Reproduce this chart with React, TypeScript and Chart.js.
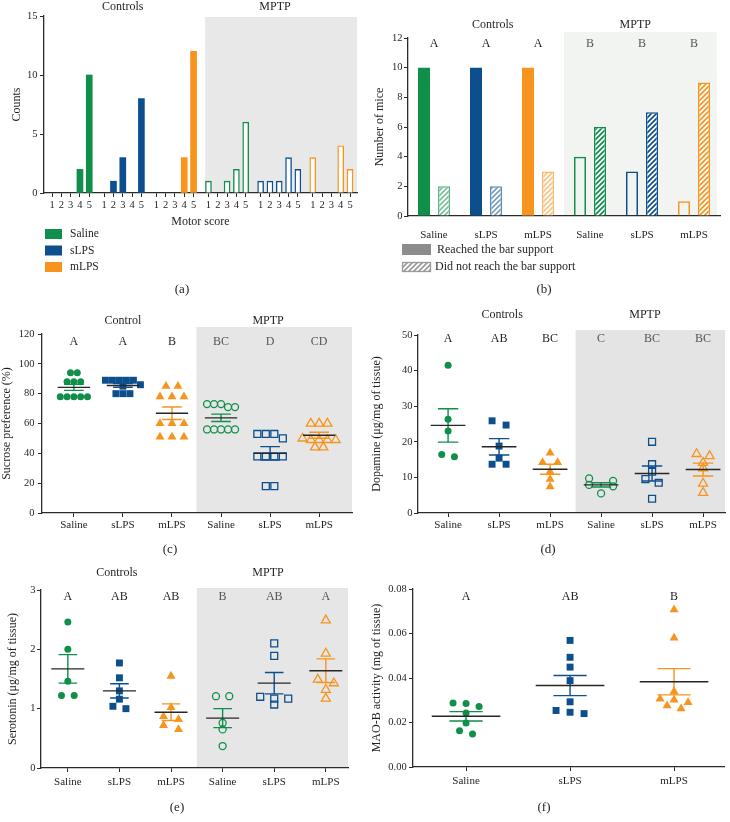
import React, { useEffect, useRef } from 'react';
import { Chart, registerables } from 'chart.js';

Chart.register(...registerables);

/* ================= DATA ================= */
// (a) motor score distribution
const MOTOR_SCORES = ['1', '2', '3', '4', '5'];
const CTRL_SALINE_MOTOR = [0, 0, 0, 2, 10];
const CTRL_SLPS_MOTOR = [0, 1, 3, 0, 8];
const CTRL_MLPS_MOTOR = [0, 0, 0, 3, 12];
const MPTP_SALINE_MOTOR = [1, 0, 1, 2, 6];
const MPTP_SLPS_MOTOR = [1, 1, 1, 3, 2];
const MPTP_MLPS_MOTOR = [3, 0, 0, 4, 2];

const TREATMENTS = ['Saline', 'sLPS', 'mLPS'];
const GROUP_LABELS = [...TREATMENTS, ...TREATMENTS];
const SECTIONS = ['Controls', 'MPTP'];
const SECTIONS_C = ['Control', 'MPTP'];

// (b) bar support
const REACHED = [10, 10, 10, 4, 3, 1];
const NOT_REACHED = [2, 2, 3, 6, 7, 9];
const LETTERS_B = ['A', 'A', 'A', 'B', 'B', 'B'];
const LEGEND_B = ['Reached the bar support', 'Did not reach the bar support'];

// (c) sucrose preference (%)
const SUC_CTRL_SALINE = [94, 94, 88, 88, 88, 78, 78, 78, 78, 78];
const SUC_CTRL_SLPS = [89, 89, 89, 89, 89, 86, 85, 80, 80, 80];
const SUC_CTRL_MLPS = [85, 85, 78, 78, 78, 60, 60, 60, 51, 51, 51];
const SUC_MPTP_SALINE = [73, 71, 73, 71, 73, 56, 56, 56, 56, 56];
const SUC_MPTP_SLPS = [53, 53, 53, 50, 38, 38, 38, 38, 18, 18];
const SUC_MPTP_MLPS = [60, 60, 60, 50, 49, 49, 49, 49, 44, 44];
const SUC_MEAN = [84.2, 85.5, 66.9, 63.8, 40.0, 52.1];
const SUC_SEM = [2.0, 1.2, 4.2, 2.5, 4.5, 2.0];
const LETTERS_C = ['A', 'A', 'B', 'BC', 'D', 'CD'];

// (d) dopamine
const DA_CTRL_SALINE = [41.5, 26.3, 23.0, 16.4, 15.8];
const DA_CTRL_SLPS = [25.9, 24.7, 18.8, 15.4, 13.7, 13.7];
const DA_CTRL_MLPS = [16.9, 14.2, 14.2, 11.6, 9.5, 7.4];
const DA_MPTP_SALINE = [9.7, 9.0, 7.9, 7.5, 5.5];
const DA_MPTP_SLPS = [20.0, 13.7, 11.6, 9.5, 8.5, 4.0];
const DA_MPTP_MLPS = [16.6, 16.0, 14.1, 12.6, 8.3, 5.7];
const DA_MEAN = [24.6, 18.6, 12.3, 7.9, 11.1, 12.2];
const DA_SEM = [4.7, 2.3, 1.4, 0.6, 2.1, 1.8];
const LETTERS_D = ['A', 'AB', 'BC', 'C', 'BC', 'BC'];

// (e) serotonin
const HT_CTRL_SALINE = [2.46, 2.0, 1.46, 1.22, 1.22];
const HT_CTRL_SLPS = [1.77, 1.52, 1.3, 1.16, 1.04, 1.0];
const HT_CTRL_MLPS = [1.55, 1.02, 0.87, 0.82, 0.72, 0.65];
const HT_MPTP_SALINE = [1.21, 1.21, 0.76, 0.65, 0.37];
const HT_MPTP_SLPS = [2.1, 1.89, 1.2, 1.17, 1.17, 1.07];
const HT_MPTP_MLPS = [2.49, 1.93, 1.49, 1.43, 1.32, 1.17];
const HT_MEAN = [1.67, 1.3, 0.94, 0.84, 1.43, 1.64];
const HT_SEM = [0.24, 0.12, 0.14, 0.16, 0.18, 0.2];
const LETTERS_E = ['A', 'AB', 'AB', 'B', 'AB', 'A'];

// (f) MAO-B activity
const MAO_SALINE = [0.0288, 0.0285, 0.0272, 0.0243, 0.0198, 0.0163, 0.0148];
const MAO_SLPS = [0.0569, 0.0493, 0.0449, 0.0388, 0.0293, 0.0254, 0.0246, 0.024];
const MAO_MLPS = [0.0707, 0.058, 0.034, 0.0306, 0.0302, 0.029, 0.0276, 0.0262];
const MAO_MEAN = [0.0228, 0.0366, 0.0383];
const MAO_SEM = [0.0021, 0.0045, 0.0059];
const LETTERS_F = ['A', 'AB', 'B'];

/* ================= STYLE ================= */
const FONT = "'Liberation Serif', 'Times New Roman', Times, serif";
const INK = '#231f20';
const AXIS = '#2b2b2b';
const GREEN = '#0f8f4a';
const BLUE = '#0d4f8d';
const ORANGE = '#f7941d';
const COLORS = [GREEN, BLUE, ORANGE, GREEN, BLUE, ORANGE];
const MARKERS = ['circle', 'rect', 'triangle'];
const MARKER_RADIUS = [3.5, 4.9, 5.2];
const GROUP_STEP = 5.6;

function hatch(color: string, alpha = 1): CanvasPattern {
  const s = 5;
  const c = document.createElement('canvas');
  c.width = s;
  c.height = s;
  const g = c.getContext('2d')!;
  g.fillStyle = '#ffffff';
  g.fillRect(0, 0, s, s);
  g.globalAlpha = alpha;
  g.strokeStyle = color;
  g.lineWidth = 1.7;
  g.beginPath();
  g.moveTo(-1, 1); g.lineTo(1, -1);
  g.moveTo(0, s); g.lineTo(s, 0);
  g.moveTo(s - 1, s + 1); g.lineTo(s + 1, s - 1);
  g.stroke();
  return g.createPattern(c, 'repeat')!;
}

function tickGrid() {
  return { display: true, drawOnChartArea: false, drawTicks: true, tickLength: 4, color: AXIS, lineWidth: 1, offset: false };
}
function axisBorder() {
  return { display: true, color: AXIS, width: 1.3 };
}

function yAxis(o: { min: number; max: number; step: number; width: number; title: string; titlePad: number; tickPad: number; fmt?: (v: number) => string }) {
  return {
    type: 'linear',
    min: o.min,
    max: o.max,
    ticks: { stepSize: o.step, padding: o.tickPad, color: INK, font: { size: 10.5 }, callback: o.fmt ?? ((v: number) => String(v)) },
    grid: tickGrid(),
    border: axisBorder(),
    title: { display: true, text: o.title, color: INK, font: { size: 12 }, padding: { top: o.titlePad, bottom: 0 } },
    afterFit: (s: any) => { s.width = o.width; },
  };
}

function xGroups(o: { min: number; max: number; labels: string[]; height: number; tickPad: number }) {
  return {
    type: 'linear',
    min: o.min,
    max: o.max,
    offset: false,
    afterBuildTicks: (s: any) => { s.ticks = o.labels.map((_, i) => ({ value: i })); },
    ticks: { autoSkip: false, maxRotation: 0, padding: o.tickPad, color: INK, font: { size: 11 }, callback: (v: number) => o.labels[Math.round(v)] ?? '' },
    grid: tickGrid(),
    border: axisBorder(),
    afterFit: (s: any) => { s.height = o.height; },
  };
}

function common(pad: { right: number; top: number }) {
  return {
    animation: false,
    responsive: false,
    maintainAspectRatio: false,
    devicePixelRatio: 1,
    events: [],
    layout: { autoPadding: false, padding: { left: 0, right: pad.right, top: pad.top, bottom: 0 } },
    plugins: { legend: { display: false }, tooltip: { enabled: false } },
  };
}

type Note = {
  shade?: { from: number; color: string; topExtra: number; rightInset?: number };
  sections?: { text: string; at: number }[];
  sectionDy?: number;
  letters?: string[];
  letterDy?: number;
  stats?: { means: number[]; sems: number[]; meanHalf: number; capHalf: number };
  label?: { text: string; x: number; y: number };
  extra?: (ctx: CanvasRenderingContext2D) => void;
};

function annotate(n: Note) {
  return {
    id: 'annotate',
    beforeDraw(chart: any) {
      if (!n.shade) return;
      const { ctx, chartArea: a, scales } = chart;
      const x0 = scales.x.getPixelForValue(n.shade.from);
      ctx.save();
      ctx.fillStyle = n.shade.color;
      ctx.fillRect(x0, a.top - n.shade.topExtra, a.right - (n.shade.rightInset ?? 0) - x0, a.bottom - a.top + n.shade.topExtra);
      ctx.restore();
    },
    afterDatasetsDraw(chart: any) {
      if (!n.stats) return;
      const { ctx, scales: { x, y } } = chart;
      const s = n.stats;
      ctx.save();
      ctx.lineWidth = 1.4;
      s.means.forEach((m, i) => {
        const cx = x.getPixelForValue(i);
        const half = x.getPixelForValue(i + s.meanHalf) - cx;
        const cap = x.getPixelForValue(i + s.capHalf) - cx;
        const yt = y.getPixelForValue(m + s.sems[i]);
        const yb = y.getPixelForValue(m - s.sems[i]);
        const ym = y.getPixelForValue(m);
        ctx.strokeStyle = COLORS[i];
        ctx.beginPath();
        ctx.moveTo(cx, yt); ctx.lineTo(cx, yb);
        ctx.moveTo(cx - cap, yt); ctx.lineTo(cx + cap, yt);
        ctx.moveTo(cx - cap, yb); ctx.lineTo(cx + cap, yb);
        ctx.stroke();
        ctx.strokeStyle = '#262626';
        ctx.beginPath();
        ctx.moveTo(cx - half, ym); ctx.lineTo(cx + half, ym);
        ctx.stroke();
      });
      ctx.restore();
    },
    afterDraw(chart: any) {
      const { ctx, chartArea: a, scales: { x } } = chart;
      ctx.save();
      ctx.textAlign = 'center';
      ctx.textBaseline = 'middle';
      ctx.font = `12px ${FONT}`;
      ctx.fillStyle = INK;
      n.sections?.forEach((s) => ctx.fillText(s.text, x.getPixelForValue(s.at), a.top - (n.sectionDy ?? 0)));
      n.letters?.forEach((l, i) => {
        ctx.fillStyle = i >= 3 ? '#555555' : INK;
        ctx.fillText(l, x.getPixelForValue(i), a.top + (n.letterDy ?? 0));
      });
      if (n.label) {
        ctx.fillStyle = INK;
        ctx.font = `13px ${FONT}`;
        ctx.fillText(n.label.text, n.label.x, n.label.y);
      }
      n.extra?.(ctx);
      ctx.restore();
    },
  };
}

function swarm(values: number[], center: number, pxPerX: number, pxPerY: number, spreadPx: number, thresholdPx = 4.6) {
  const sorted = [...values].sort((a, b) => b - a);
  const rows: number[][] = [];
  sorted.forEach((v) => {
    const row = rows[rows.length - 1];
    if (row && (row[0] - v) * pxPerY <= thresholdPx) row.push(v);
    else rows.push([v]);
  });
  const pts: { x: number; y: number }[] = [];
  rows.forEach((row) => row.forEach((v, k) => pts.push({ x: center + ((k - (row.length - 1) / 2) * spreadPx) / pxPerX, y: v })));
  return pts;
}

/* ================= PANELS ================= */
type Box = { left: number; top: number; w: number; h: number };

function buildA() {
  const series = [CTRL_SALINE_MOTOR, CTRL_SLPS_MOTOR, CTRL_MLPS_MOTOR, MPTP_SALINE_MOTOR, MPTP_SLPS_MOTOR, MPTP_MLPS_MOTOR];
  const bars: { x: number; y: number; g: number }[] = [];
  series.forEach((counts, g) => counts.forEach((c, i) => { if (c > 0) bars.push({ x: g * GROUP_STEP + i, y: c, g }); }));
  const tickValues = series.flatMap((_, g) => MOTOR_SCORES.map((__, i) => g * GROUP_STEP + i));
  return {
    type: 'bar',
    data: {
      datasets: [{
        data: bars.map((b) => ({ x: b.x, y: b.y })),
        backgroundColor: bars.map((b) => (b.g < 3 ? COLORS[b.g] : '#ffffff')),
        borderColor: bars.map((b) => COLORS[b.g]),
        borderWidth: bars.map((b) => (b.g < 3 ? 0 : 1.4)),
        barThickness: 6,
      }],
    },
    options: {
      ...common({ right: 8, top: 16 }),
      scales: {
        x: {
          type: 'linear', min: -0.86, max: 32.75, offset: false,
          afterBuildTicks: (s: any) => { s.ticks = tickValues.map((v) => ({ value: v })); },
          ticks: { autoSkip: false, maxRotation: 0, padding: 2, color: INK, font: { size: 10.5 }, callback: (_v: number, i: number) => MOTOR_SCORES[i % MOTOR_SCORES.length] },
          grid: tickGrid(),
          border: axisBorder(),
          title: { display: true, text: 'Motor score', color: INK, font: { size: 12 }, padding: { top: 0, bottom: 70.8 } },
          afterFit: (s: any) => { s.height = 107; },
        },
        y: yAxis({ min: 0, max: 15, step: 5, width: 44, title: 'Counts', titlePad: 10, tickPad: 2.5 }),
      },
    },
    plugins: [annotate({
      shade: { from: 16.45, color: '#e8e8e8', topExtra: -1 },
      sections: [{ text: SECTIONS[0], at: 7.6 }, { text: SECTIONS[1], at: 23.95 }],
      sectionDy: 9.5,
      label: { text: '(a)', x: 182, y: 290 },
      extra: (ctx) => {
        [GREEN, BLUE, ORANGE].forEach((c, k) => {
          ctx.fillStyle = c;
          ctx.fillRect(45, 229 + k * 16.5, 17, 10);
          ctx.fillStyle = INK;
          ctx.font = `11.5px ${FONT}`;
          ctx.textAlign = 'left';
          ctx.fillText(TREATMENTS[k], 70, 234 + k * 16.5);
        });
      },
    })],
  };
}

function buildB() {
  const ctrlHatch = COLORS.map((c) => hatch(c, 0.55));
  const mptpHatch = COLORS.map((c) => hatch(c, 1));
  return {
    type: 'bar',
    data: {
      labels: GROUP_LABELS,
      datasets: [
        {
          data: REACHED,
          backgroundColor: COLORS.map((c, i) => (i < 3 ? c : 'rgba(0,0,0,0)')),
          borderColor: COLORS,
          borderWidth: COLORS.map((_, i) => (i < 3 ? 0 : 1.5)),
          categoryPercentage: 0.77,
          barPercentage: 0.6,
        },
        {
          data: NOT_REACHED,
          backgroundColor: COLORS.map((_, i) => (i < 3 ? ctrlHatch[i] : mptpHatch[i])),
          borderColor: COLORS.map((c, i) => (i < 3 ? c + 'aa' : c)),
          borderWidth: 1.5,
          categoryPercentage: 0.77,
          barPercentage: 0.6,
        },
      ],
    },
    options: {
      ...common({ right: 10, top: 38 }),
      scales: {
        x: {
          type: 'category', offset: true,
          grid: { display: false },
          border: axisBorder(),
          ticks: { padding: 4.4, color: INK, font: { size: 11 } },
          afterFit: (s: any) => { s.height = 84; },
        },
        y: yAxis({ min: 0, max: 12, step: 2, width: 43, title: 'Number of mice', titlePad: 7.8, tickPad: 1.5 }),
      },
    },
    plugins: [annotate({
      shade: { from: 2.5, color: '#f2f4f2', topExtra: 6, rightInset: 3 },
      sections: [{ text: SECTIONS[0], at: 1.13 }, { text: SECTIONS[1], at: 3.87 }],
      sectionDy: 13,
      letters: LETTERS_B,
      letterDy: 6,
      label: { text: '(b)', x: 179, y: 290 },
      extra: (ctx) => {
        ctx.fillStyle = '#8c8c8c';
        ctx.fillRect(37, 244, 29, 11);
        ctx.fillStyle = hatch('#9a9a9a', 1);
        ctx.fillRect(37, 262, 29, 10);
        ctx.strokeStyle = '#9a9a9a';
        ctx.lineWidth = 1.3;
        ctx.strokeRect(37.5, 262.5, 28, 9);
        ctx.fillStyle = INK;
        ctx.font = `12px ${FONT}`;
        ctx.textAlign = 'left';
        ctx.fillText(LEGEND_B[0], 72, 250);
        ctx.fillText(LEGEND_B[1], 70, 267);
      },
    })],
  };
}

type ScatterSpec = {
  groups: number[][];
  means: number[];
  sems: number[];
  letters: string[];
  labels: string[];
  filledAll?: boolean;
  spreads: number[];
  yMin: number; yMax: number; yStep: number; yTitle: string; yTitlePad: number; yTickPad: number; yFmt?: (v: number) => string;
  xMin: number; xMax: number; xTickPad: number;
  yWidth: number; padR: number; padT: number; xH: number; box: Box;
  sections?: string[]; sectionAt?: number[]; sectionDy?: number; letterDy: number;
  shade?: { from: number; color: string; topExtra: number };
  meanHalf: number; capHalf: number;
  label: { text: string; x: number; y: number };
};

function buildScatter(p: ScatterSpec) {
  const plotW = p.box.w - p.yWidth - p.padR;
  const plotH = p.box.h - p.padT - p.xH;
  const pxX = plotW / (p.xMax - p.xMin);
  const pxY = plotH / (p.yMax - p.yMin);
  const datasets = p.groups.map((vals, i) => {
    const color = COLORS[i];
    const filled = p.filledAll || i < 3;
    return {
      data: swarm(vals, i, pxX, pxY, p.spreads[i]),
      pointStyle: MARKERS[i % 3],
      pointRadius: MARKER_RADIUS[i % 3],
      pointBackgroundColor: filled ? color : 'rgba(0,0,0,0)',
      pointBorderColor: color,
      pointBorderWidth: filled ? 0 : 1.3,
    };
  });
  return {
    type: 'scatter',
    data: { datasets },
    options: {
      ...common({ right: p.padR, top: p.padT }),
      scales: {
        x: xGroups({ min: p.xMin, max: p.xMax, labels: p.labels, height: p.xH, tickPad: p.xTickPad }),
        y: yAxis({ min: p.yMin, max: p.yMax, step: p.yStep, width: p.yWidth, title: p.yTitle, titlePad: p.yTitlePad, tickPad: p.yTickPad, fmt: p.yFmt }),
      },
    },
    plugins: [annotate({
      shade: p.shade,
      sections: p.sections?.map((t, i) => ({ text: t, at: p.sectionAt![i] })),
      sectionDy: p.sectionDy,
      letters: p.letters,
      letterDy: p.letterDy,
      stats: { means: p.means, sems: p.sems, meanHalf: p.meanHalf, capHalf: p.capHalf },
      label: p.label,
    })],
  };
}

const BOX_A: Box = { left: 0, top: 0, w: 365, h: 300 };
const BOX_B: Box = { left: 365, top: 0, w: 365, h: 300 };
const BOX_C: Box = { left: 0, top: 300, w: 365, h: 260 };
const BOX_D: Box = { left: 365, top: 300, w: 365, h: 260 };
const BOX_E: Box = { left: 0, top: 560, w: 365, h: 262 };
const BOX_F: Box = { left: 365, top: 560, w: 365, h: 262 };

const PANELS: { box: Box; build: () => any }[] = [
  { box: BOX_A, build: buildA },
  { box: BOX_B, build: buildB },
  {
    box: BOX_C,
    build: () => buildScatter({
      groups: [SUC_CTRL_SALINE, SUC_CTRL_SLPS, SUC_CTRL_MLPS, SUC_MPTP_SALINE, SUC_MPTP_SLPS, SUC_MPTP_MLPS],
      means: SUC_MEAN, sems: SUC_SEM, letters: LETTERS_C, labels: GROUP_LABELS,
      spreads: [6.8, 7, 12, 7, 8.5, 8.3],
      yMin: 0, yMax: 120, yStep: 20, yTitle: 'Sucrose preference (%)', yTitlePad: 0, yTickPad: 3.5,
      xMin: -0.65, xMax: 5.67, xTickPad: 1.4,
      yWidth: 42, padR: 13, padT: 34, xH: 47, box: BOX_C,
      sections: SECTIONS_C, sectionAt: [1.0, 3.96], sectionDy: 13, letterDy: 8,
      shade: { from: 2.5, color: '#e6e6e6', topExtra: 7 },
      meanHalf: 0.33, capHalf: 0.2,
      label: { text: '(c)', x: 170, y: 250 },
    }),
  },
  {
    box: BOX_D,
    build: () => buildScatter({
      groups: [DA_CTRL_SALINE, DA_CTRL_SLPS, DA_CTRL_MLPS, DA_MPTP_SALINE, DA_MPTP_SLPS, DA_MPTP_MLPS],
      means: DA_MEAN, sems: DA_SEM, letters: LETTERS_D, labels: GROUP_LABELS,
      spreads: [12.7, 14, 15, 24, 13.3, 13],
      yMin: 0, yMax: 50, yStep: 10, yTitle: 'Dopamine (μg/mg of tissue)', yTitlePad: 5, yTickPad: 1.5,
      xMin: -0.59, xMax: 5.43, xTickPad: 1.4,
      yWidth: 53, padR: 5, padT: 35, xH: 47, box: BOX_D,
      sections: SECTIONS, sectionAt: [1.06, 3.86], sectionDy: 20, letterDy: 4,
      shade: { from: 2.5, color: '#e4e4e4', topExtra: 5 },
      meanHalf: 0.34, capHalf: 0.2,
      label: { text: '(d)', x: 183, y: 250 },
    }),
  },
  {
    box: BOX_E,
    build: () => buildScatter({
      groups: [HT_CTRL_SALINE, HT_CTRL_SLPS, HT_CTRL_MLPS, HT_MPTP_SALINE, HT_MPTP_SLPS, HT_MPTP_MLPS],
      means: HT_MEAN, sems: HT_SEM, letters: LETTERS_E, labels: GROUP_LABELS,
      spreads: [12.7, 13, 15, 13.3, 14, 16],
      yMin: 0, yMax: 3, yStep: 1, yTitle: 'Serotonin (μg/mg of tissue)', yTitlePad: 6, yTickPad: 1.5,
      xMin: -0.52, xMax: 5.43, xTickPad: 3.4,
      yWidth: 41, padR: 17, padT: 30, xH: 54, box: BOX_E,
      sections: SECTIONS, sectionAt: [0.95, 3.88], sectionDy: 17, letterDy: 7,
      shade: { from: 2.5, color: '#e6e6e6', topExtra: 2 },
      meanHalf: 0.32, capHalf: 0.18,
      label: { text: '(e)', x: 177, y: 248 },
    }),
  },
  {
    box: BOX_F,
    build: () => buildScatter({
      groups: [MAO_SALINE, MAO_SLPS, MAO_MLPS],
      means: MAO_MEAN, sems: MAO_SEM, letters: LETTERS_F, labels: TREATMENTS, filledAll: true,
      spreads: [13, 14, 14],
      yMin: 0, yMax: 0.08, yStep: 0.02, yTitle: 'MAO-B activity (mg of tissue)', yTitlePad: 5, yTickPad: 2.3,
      yFmt: (v: number) => v.toFixed(2),
      xMin: -0.51, xMax: 2.48, xTickPad: 3.4,
      yWidth: 48, padR: 6, padT: 29, xH: 55, box: BOX_F,
      letterDy: 8,
      meanHalf: 0.33, capHalf: 0.16,
      label: { text: '(f)', x: 179, y: 248 },
    }),
  },
];

export default function App() {
  const canvases = useRef<(HTMLCanvasElement | null)[]>([]);

  useEffect(() => {
    Chart.defaults.font.family = FONT;
    Chart.defaults.color = INK;
    const charts = PANELS.map((p, i) => new Chart(canvases.current[i] as HTMLCanvasElement, p.build()));
    return () => charts.forEach((c) => c.destroy());
  }, []);

  return (
    <div style={{ position: 'absolute', left: 0, top: 0, width: 730, height: 822, background: '#ffffff', overflow: 'hidden' }}>
      {PANELS.map((p, i) => (
        <canvas
          key={i}
          ref={(el) => { canvases.current[i] = el; }}
          width={p.box.w}
          height={p.box.h}
          style={{ position: 'absolute', left: p.box.left, top: p.box.top, width: p.box.w, height: p.box.h }}
        />
      ))}
    </div>
  );
}
